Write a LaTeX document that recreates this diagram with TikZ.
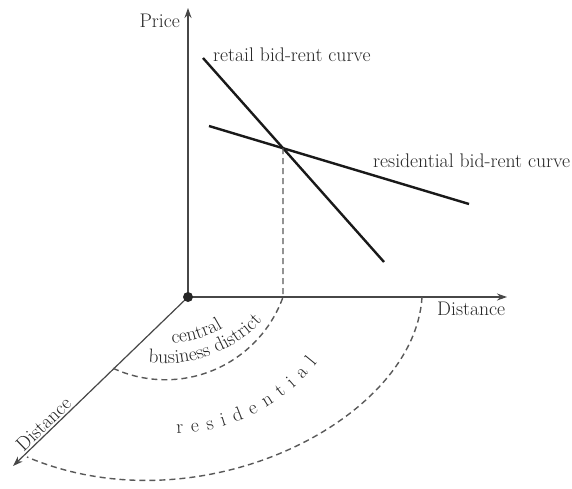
\documentclass[tikz,border=0pt]{standalone}
\usetikzlibrary{arrows.meta,decorations.text,calc}
\newcommand{\lblfont}{\fontsize{19.7}{22}\selectfont}
\begin{document}
\begin{tikzpicture}[x=1pt,y=1pt,
  axis/.style={draw=black!72, line width=1.2pt, -{Stealth[length=10pt,width=7pt]}},
  bidcurve/.style={draw=black!90, line width=2.4pt},
  dashline/.style={draw=black!65, line width=1.4pt, dash pattern=on 6pt off 4pt},
  lbl/.style={font=\lblfont, text=black!85, inner sep=0pt}]
\useasboundingbox (0,0) rectangle (572,488);
% axes
\coordinate (O) at (188,191);
\coordinate (ytip) at (188,480);
\coordinate (xtip) at (507,191);
\coordinate (ztip) at (13,22);
\draw[axis] (O) -- (ytip);
\draw[axis] (O) -- (xtip);
\draw[axis] (O) -- (ztip);
\fill[black!85] (O) circle (5);
% bid-rent curves
\coordinate (r1) at (203,430);
\coordinate (r2) at (384,226);
\coordinate (s1) at (209,362);
\coordinate (s2) at (469,284);
\draw[bidcurve] (r1) -- (r2);
\draw[bidcurve] (s1) -- (s2);
\coordinate (X) at (intersection of r1--r2 and s1--s2);
% zone boundaries
\coordinate (cbdx) at (X |- O);
\draw[dashline] (X) -- (cbdx) arc[start angle=-19.75, end angle=-115.6, radius=125];
\coordinate (resx) at (422,191);
\coordinate (resz) at (27,31);
\draw[dashline] (resx) .. controls (415,68) and (200,-42) .. (resz);
% labels
\node[lbl, anchor=base east] (price) at (180,460) {Price};
\node[lbl, anchor=base west] (rt) at (213,426) {retail bid-rent curve};
\node[lbl, anchor=base west] (rs) at (373,320) {residential bid-rent curve};
\node[lbl, anchor=base west] (dx) at (437,173) {Distance};
\node[lbl, anchor=base, rotate=44] (dz) at (48,59.4) {Distance};
% curved zone labels
\coordinate (cc) at (164,259);
\path[decorate, decoration={text along path, text align=left,
  text={|\color{black!85}\lblfont|central}}]
  ($(cc)+(-86:115)$) arc[start angle=-86, end angle=-20, radius=115];
\path[decorate, decoration={text along path, text align=left,
  text={|\color{black!85}\lblfont|business district}}]
  ($(cc)+(-96.8:134.5)$) arc[start angle=-96.8, end angle=-10, radius=134.5];
\coordinate (rc) at (170,242);
\path[decorate, decoration={text along path, text align={fit to path},
  text={|\color{black!85}\lblfont|residential}}]
  ($(rc)+(-88:188)$) arc[start angle=-88, end angle=-38.5, radius=188];
\end{tikzpicture}
\end{document}
